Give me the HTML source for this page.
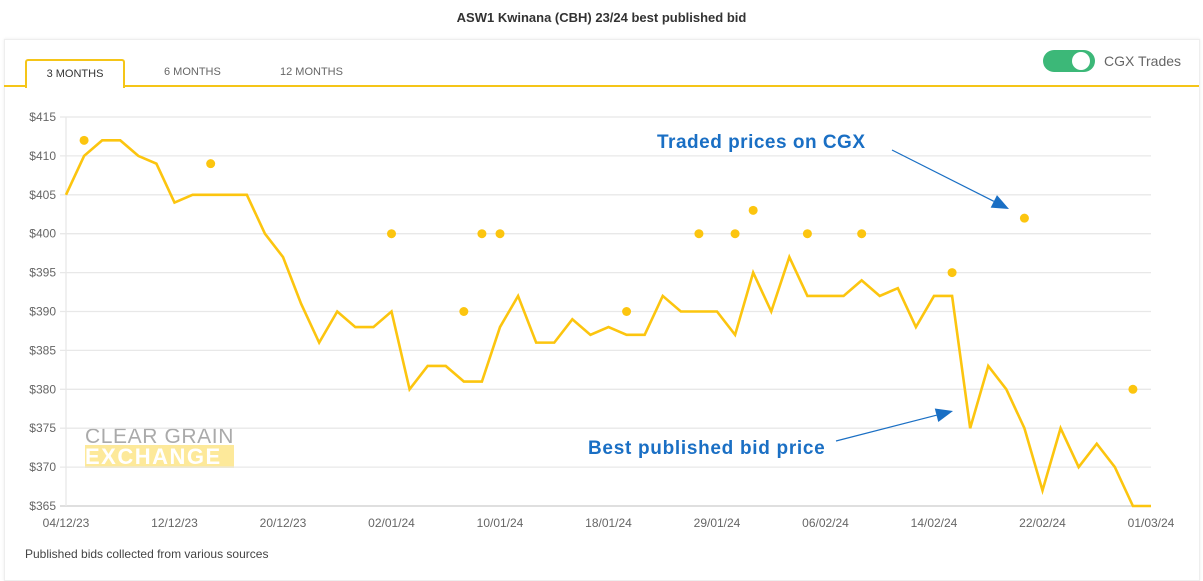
<!DOCTYPE html>
<html><head><meta charset="utf-8">
<style>
body{margin:0;width:1203px;height:577px;background:#fff;font-family:"Liberation Sans",sans-serif;overflow:hidden;position:relative}
.t{position:absolute;font-size:12px;color:#333}
</style></head><body>
<div style="position:absolute;top:10px;left:0;width:1203px;text-align:center;font-size:13px;font-weight:bold;color:#333">ASW1 Kwinana (CBH) 23/24 best published bid</div>
<div style="position:absolute;left:4px;top:39px;width:1194px;height:540px;border:1px solid #eee;box-shadow:0 0 3px rgba(0,0,0,0.08)"></div>
<div style="position:absolute;left:4px;top:85px;width:1195px;height:2px;background:#f5c518"></div>
<div style="position:absolute;left:25px;top:59px;width:96px;height:27px;border:2px solid #f5c518;border-bottom:none;border-radius:3px 3px 0 0;background:#fff;text-align:center;line-height:26px;font-size:11px;color:#333">3 MONTHS</div>
<div class="t" style="left:164px;top:66px;font-size:11px;color:#666">6 MONTHS</div>
<div class="t" style="left:280px;top:66px;font-size:11px;color:#666">12 MONTHS</div>
<div style="position:absolute;left:1043px;top:50px;width:52px;height:22px;border-radius:11px;background:#3cb878"><div style="position:absolute;left:29px;top:2px;width:18px;height:18px;border-radius:9px;background:#fff"></div></div>
<div class="t" style="left:1104px;top:53px;font-size:14px;color:#666">CGX Trades</div>
<div style="position:absolute;left:85px;top:425px;font-size:21px;color:#aaa;letter-spacing:0.6px">CLEAR GRAIN</div>
<div style="position:absolute;left:85px;top:445px;width:149px;height:23px;background:#fde99a;color:#fff;font-weight:bold;font-size:22px;line-height:23px;letter-spacing:1.5px">EXCHANGE</div>
<div class="t" style="left:25px;top:547px;font-size:12px;color:#444">Published bids collected from various sources</div>
<svg id="c" width="1203" height="577" style="position:absolute;left:0;top:0"></svg>
<script>
const prices=[405,410,412,412,410,409,404,405,405,405,405,400,397,391,386,390,388,388,390,380,383,383,381,381,388,392,386,386,389,387,388,387,387,392,390,390,390,387,395,390,397,392,392,392,394,392,393,388,392,392,375,383,380,375,367,375,370,373,370,365,365];
const tradeIdx=[1,8,18,22,23,24,31,35,37,38,41,44,49,53,59];
const tradeVals=[412,409,400,390,400,400,390,400,400,403,400,400,395,402,380];
const yTicks=[365,370,375,380,385,390,395,400,405,410,415];
const xLabels=["04/12/23","12/12/23","20/12/23","02/01/24","10/01/24","18/01/24","29/01/24","06/02/24","14/02/24","22/02/24","01/03/24"];
const NS="http://www.w3.org/2000/svg",svg=document.getElementById('c');
const X=i=>66+i*(1151-66)/60, Y=v=>506-(v-365)*(506-117)/50;
function mk(t,a){const e=document.createElementNS(NS,t);for(const k in a)e.setAttribute(k,a[k]);svg.appendChild(e);return e;}
yTicks.forEach(v=>{
 const l=mk('line',{x1:60,x2:1151,y1:Y(v),y2:Y(v),stroke:v==365?'#ccc':'#e8e8e8','stroke-width':1.3});
 
 
 const t=mk('text',{x:56,y:Y(v)+4,'text-anchor':'end','font-size':12,fill:'#666','font-family':'Liberation Sans'});t.textContent='$'+v;
 
 
});
const ax=mk('line',{x1:66,x2:66,y1:117,y2:506,stroke:'#e8e8e8','stroke-width':1.3});


xLabels.forEach((s,k)=>{
 const t=mk('text',{x:X(k*6),y:527,'text-anchor':'middle','font-size':12,fill:'#666','font-family':'Liberation Sans'});t.textContent=s;
 
 
});
const p=mk('polyline',{points:prices.map((v,i)=>X(i)+','+Y(v)).join(' '),fill:'none',stroke:'#fcc50f','stroke-width':2.6,'stroke-linejoin':'miter'});


tradeIdx.forEach((i,k)=>{
 const c=mk('circle',{cx:X(i),cy:Y(tradeVals[k]),r:4.5,fill:'#fcc50f'});
 
 
});
function arrow(x1,y1,x2,y2,name){
 const a=Math.atan2(y2-y1,x2-x1),L=17,W=7;
 const bx=x2-L*Math.cos(a),by=y2-L*Math.sin(a);
 const l=mk('line',{x1,y1,x2:bx,y2:by,stroke:'#1a6fc4','stroke-width':1.2});
 
 
 const h=mk('polygon',{points:`${x2},${y2} ${bx-W*Math.sin(a)},${by+W*Math.cos(a)} ${bx+W*Math.sin(a)},${by-W*Math.cos(a)}`,fill:'#1a6fc4'});
 
 
}
arrow(892,150,1009,209,'traded-arrow');
arrow(836,441,953,411,'bid-arrow');
const a1=mk('text',{x:657,y:148,'font-size':19,'font-weight':'bold',fill:'#1a6fc4','font-family':'Liberation Sans','letter-spacing':0.5});a1.textContent='Traded prices on CGX';


const a2=mk('text',{x:588,y:454,'font-size':19,'font-weight':'bold',fill:'#1a6fc4','font-family':'Liberation Sans','letter-spacing':0.7});a2.textContent='Best published bid price';


</script>
</body></html>
